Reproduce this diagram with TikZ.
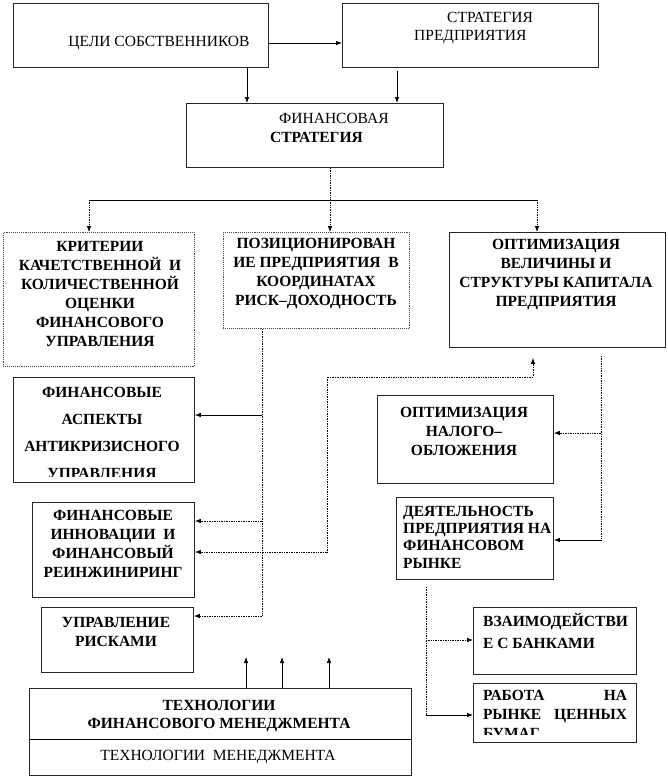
\documentclass[tikz,border=0pt]{standalone}
\usepackage{fontspec}
\setmainfont{Liberation Serif}
\usetikzlibrary{arrows.meta,calc}
\begin{document}
\begin{tikzpicture}[x=1pt,y=-1pt,
  box/.style={draw=black!85, line width=0.9pt, anchor=north west, inner sep=0pt},
  dbox/.style={box, densely dotted, draw=black!70},
  txt/.style={inner sep=0pt, align=center, font=\fontsize{15.5}{19}\selectfont},
  btxt/.style={txt, font=\fontsize{15.5}{19}\selectfont\bfseries},
  mytip/.tip={Latex[length=6pt,width=4.5pt]},
  arr/.style={-mytip, line width=0.7pt},
  darr/.style={arr, densely dotted},
  dline/.style={densely dotted, line width=0.7pt},
  sline/.style={line width=0.7pt}
]
\useasboundingbox (0,0) rectangle (668,779);
\fill[white] (0,0) rectangle (668,779);

% boxes
\node[box, minimum width=255pt, minimum height=64pt] (goals) at (13,3) {};
\node[box, minimum width=256pt, minimum height=64pt] (strat) at (342,3) {};
\node[box, minimum width=257pt, minimum height=64pt] (fin) at (186,103) {};
\node[dbox, minimum width=191pt, minimum height=134pt] (crit) at (3,232) {};
\node[dbox, minimum width=186pt, minimum height=96pt] (pos) at (223,232) {};
\node[box, minimum width=216pt, minimum height=115pt] (opt) at (449,232) {};
\node[box, minimum width=181pt, minimum height=105pt] (asp) at (13,377) {};
\node[box, minimum width=162pt, minimum height=95pt] (inn) at (32,502) {};
\node[box, minimum width=152pt, minimum height=65pt] (risk) at (41,607) {};
\node[box, minimum width=176pt, minimum height=88pt] (tax) at (377,395) {};
\node[box, minimum width=157pt, minimum height=82pt] (act) at (396,497) {};
\node[box, minimum width=163pt, minimum height=67pt] (bank) at (473,607) {};
\node[box, minimum width=163pt, minimum height=59pt] (work) at (473,683) {};
\node[box, minimum width=382pt, minimum height=87pt] (tech) at (29,688) {};
\draw[sline] (tech.west |- 0,739) -- (tech.east |- 0,739);

% texts
\node[txt] (goalsT) at (159,43) {ЦЕЛИ СОБСТВЕННИКОВ};
\node[txt, anchor=west] (stratT1) at (447,17) {СТРАТЕГИЯ};
\node[txt, anchor=west] (stratT2) at (414,37) {ПРЕДПРИЯТИЯ};
\node[txt, anchor=west] (finT1) at (279,118) {ФИНАНСОВАЯ};
\node[btxt, anchor=west] (finT2) at (270,137) {СТРАТЕГИЯ};
\node[btxt] (critT) at (100,294) {КРИТЕРИИ\\КАЧЕТСТВЕННОЙ~~И\\КОЛИЧЕСТВЕННОЙ\\ОЦЕНКИ\\ФИНАНСОВОГО\\УПРАВЛЕНИЯ};
\node[btxt] (posT) at (316,274) {ПОЗИЦИОНИРОВАН\\ИЕ ПРЕДПРИЯТИЯ~~В\\КООРДИНАТАХ\\РИСК–ДОХОДНОСТЬ};
\node[btxt] (optT) at (556,275) {ОПТИМИЗАЦИЯ\\ВЕЛИЧИНЫ И\\СТРУКТУРЫ КАПИТАЛА\\ПРЕДПРИЯТИЯ};
\begin{scope}
  \clip (asp.north west) rectangle ($(asp.south east)+(0,-6)$);
  \node[btxt, font=\fontsize{15.5}{27}\selectfont\bfseries] (aspT) at (102,433) {ФИНАНСОВЫЕ\\АСПЕКТЫ\\АНТИКРИЗИСНОГО\\УПРАВЛЕНИЯ};
\end{scope}
\node[btxt] (innT) at (113,544) {ФИНАНСОВЫЕ\\ИННОВАЦИИ~~И\\ФИНАНСОВЫЙ\\РЕИНЖИНИРИНГ};
\node[btxt] (riskT) at (116,632) {УПРАВЛЕНИЕ\\РИСКАМИ};
\node[btxt] (taxT) at (464,431) {ОПТИМИЗАЦИЯ\\НАЛОГО–\\ОБЛОЖЕНИЯ};
\node[btxt, align=left, anchor=west, font=\fontsize{15.5}{17.3}\selectfont\bfseries] (actT) at (403,537) {ДЕЯТЕЛЬНОСТЬ\\ПРЕДПРИЯТИЯ НА\\ФИНАНСОВОМ\\РЫНКЕ};
\node[btxt, align=left, anchor=west, font=\fontsize{15.5}{21.7}\selectfont\bfseries] (bankT) at (483,631) {ВЗАИМОДЕЙСТВИ\\Е С БАНКАМИ};
\begin{scope}
  \clip (work.north west) rectangle ($(work.south east)+(0,-8)$);
  \node[btxt, align=left, text width=144pt] (workT) at (555,714) {РАБОТА\hfill НА\\РЫНКЕ\hfill ЦЕННЫХ\\БУМАГ};
\end{scope}
\node[btxt, font=\fontsize{15.5}{18}\selectfont\bfseries] (techT1) at (219,716) {ТЕХНОЛОГИИ\\ФИНАНСОВОГО МЕНЕДЖМЕНТА};
\node[txt] (techT2) at (218,757) {ТЕХНОЛОГИИ~~МЕНЕДЖМЕНТА};

% connectors top
\draw[arr] (goals.east |- goalsT) -- (strat.west |- goalsT);
\draw[arr] (goals.south -| 247,0) -- (fin.north -| 247,0);
\draw[arr] ($(strat.south -| 397,0)+(0,3)$) -- (fin.north -| 397,0);
\coordinate (forkM) at (330,200);
\coordinate (forkL) at (89,200);
\coordinate (forkR) at (537,200);
\draw[dline] (fin.south -| forkM) -- (forkM);
\draw[sline] (forkL) -- (forkR);
\draw[darr] (forkL) -- (crit.north -| forkL);
\draw[darr] (forkM) -- (pos.north -| forkM);
\draw[darr] (forkR) -- (opt.north -| forkR);

% left trunk
\coordinate (lt1) at (262,415);
\coordinate (lt2) at (262,521);
\coordinate (lt3) at (262,616);
\draw[dline] (pos.south -| lt1) -- (lt3);
\draw[arr] (lt1) -- (asp.east |- lt1);
\draw[darr] (lt2) -- (inn.east |- lt2);
\draw[darr] (lt3) -- (risk.east |- lt3);

% loop between innovations and optimisation
\coordinate (lp1) at (327,552);
\coordinate (lp2) at (327,377);
\coordinate (lp3) at (533,377);
\draw[dline, mytip-mytip] (inn.east |- lp1) -- (lp1) -- (lp2) -- (lp3) -- ($(opt.south -| lp3)+(0,10)$);

% right trunk
\coordinate (rt1) at (601,433);
\coordinate (rt2) at (601,540);
\draw[dline] ($(opt.south -| rt1)+(0,8)$) -- (rt2);
\draw[darr] (rt1) -- (tax.east |- rt1);
\draw[arr] (rt2) -- (act.east |- rt2);

% bottom right
\coordinate (bt1) at (426,640);
\coordinate (bt2) at (426,715);
\draw[dline] ($(act.south -| bt1)+(0,7)$) -- (bt2);
\draw[darr] (bt1) -- (bank.west |- bt1);
\draw[arr] (bt2) -- (work.west |- bt2);

% technology arrows
\foreach \xx in {246,282,329} {
  \draw[arr] (tech.north -| \xx,0) -- ++(0,-31);
}
\end{tikzpicture}
\end{document}
